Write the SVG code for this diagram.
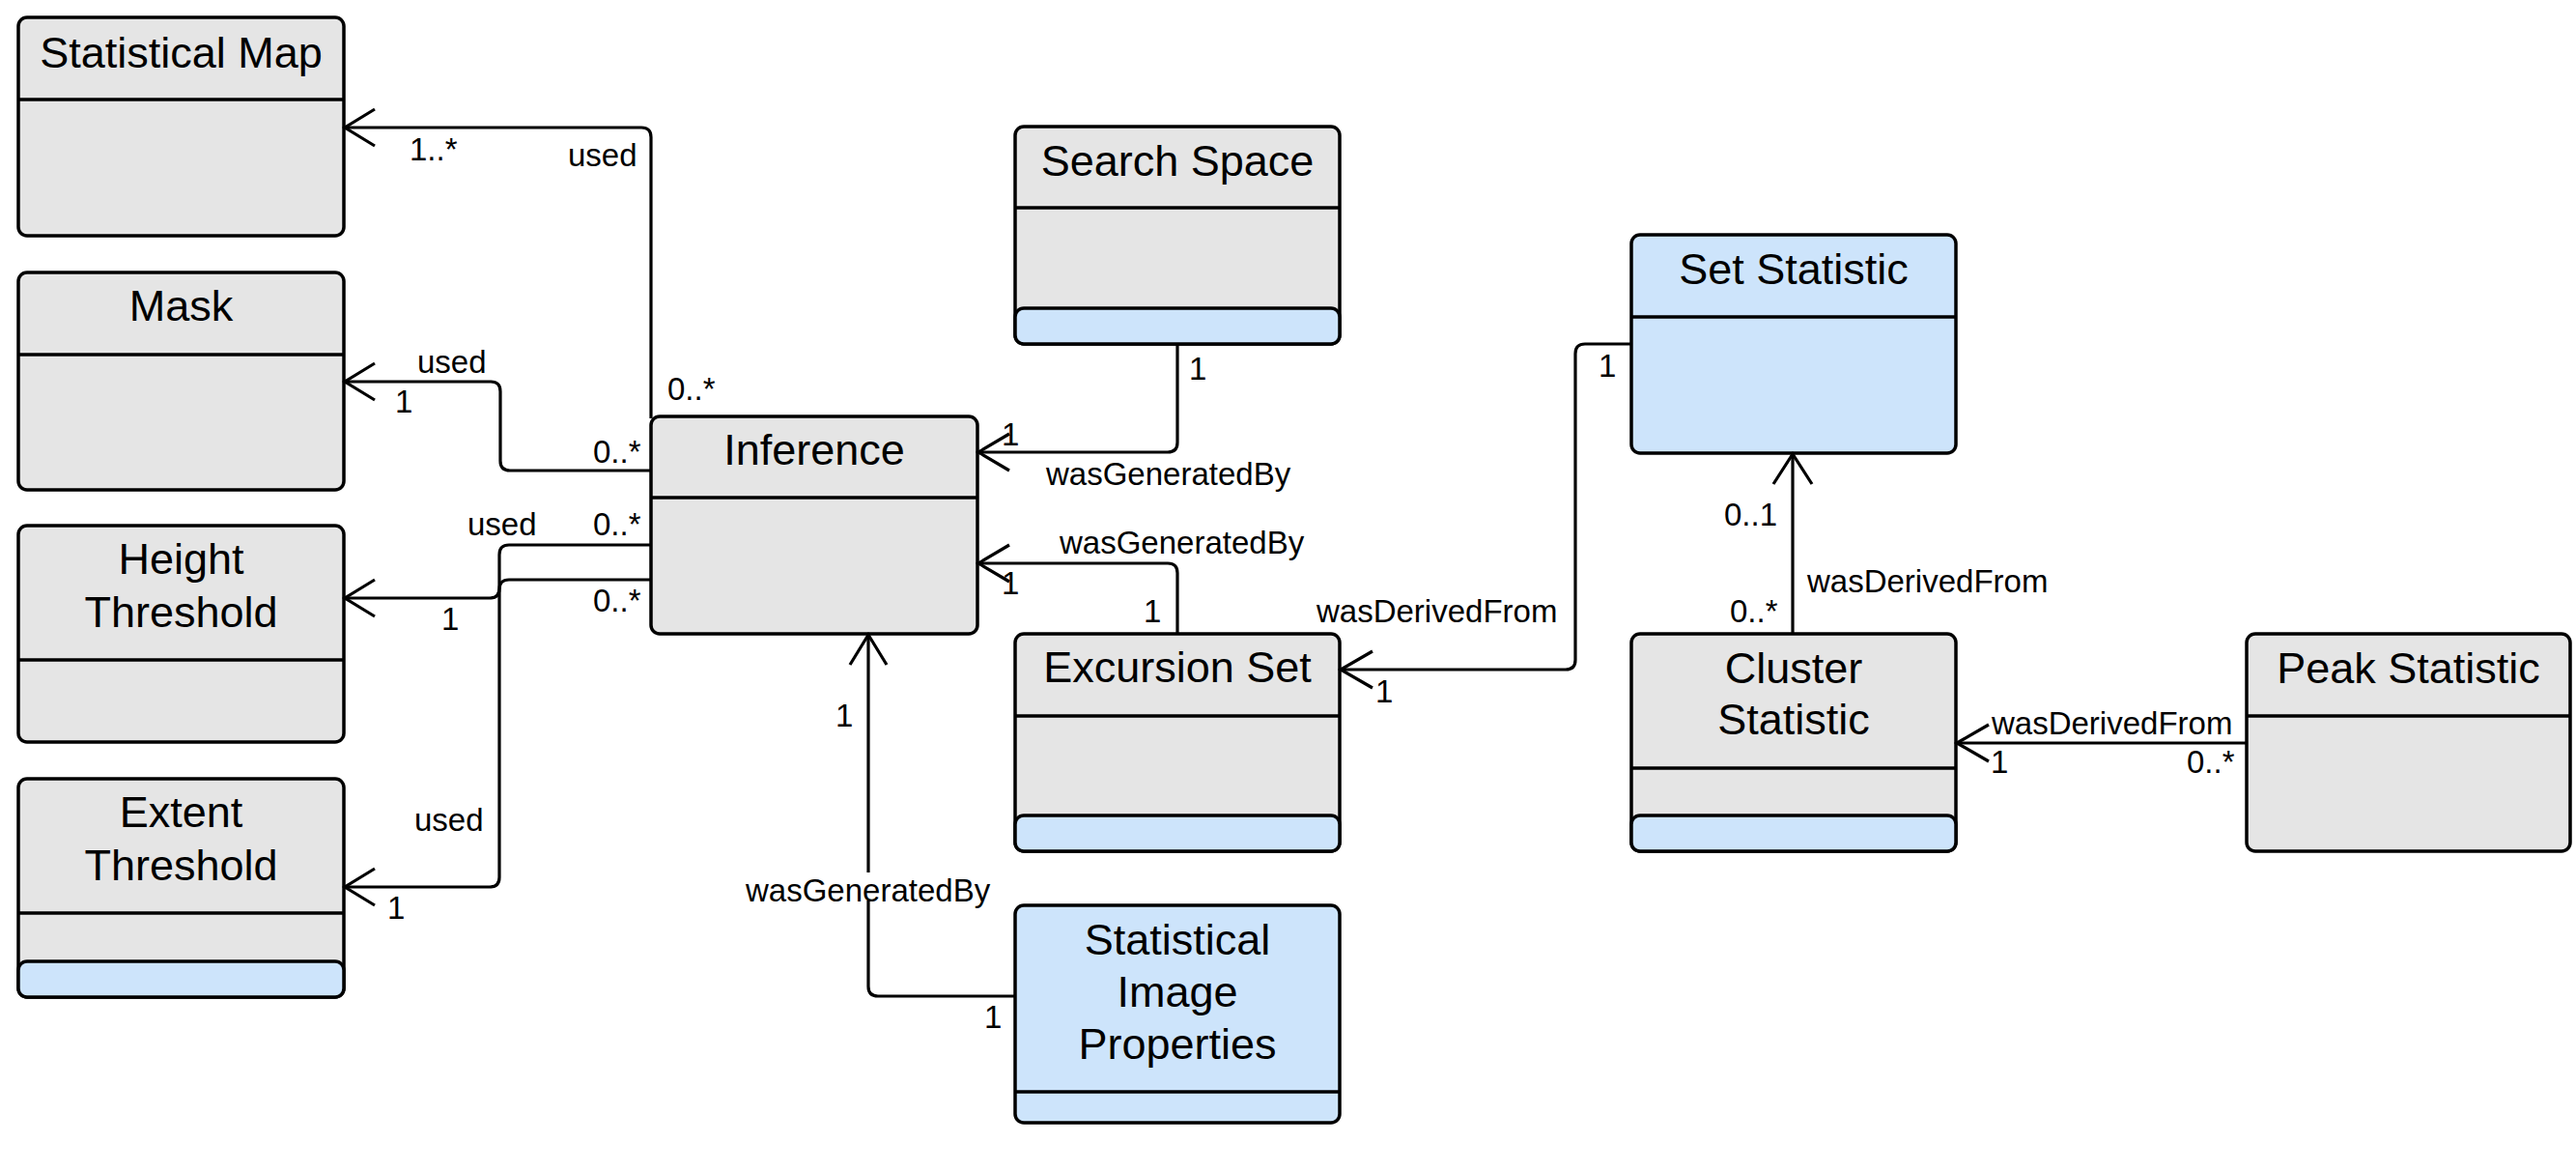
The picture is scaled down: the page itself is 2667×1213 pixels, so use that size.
<svg xmlns="http://www.w3.org/2000/svg" width="2667" height="1213" viewBox="0 0 2667 1213">
<style>
.box{fill:#e5e5e5;stroke:#000;stroke-width:3.5}
.bbox{fill:#cde4fb;stroke:#000;stroke-width:3.5}
.sec{fill:#cde4fb;stroke:#000;stroke-width:3.5}
.div{stroke:#000;stroke-width:3.5}
.t{font-family:"Liberation Sans",Arial,sans-serif;font-size:45px;fill:#000;text-anchor:middle}
.l{font-family:"Liberation Sans",Arial,sans-serif;font-size:33px;fill:#000}
.c{fill:none;stroke:#000;stroke-width:3.2;stroke-linejoin:round}
.a{fill:none;stroke:#000;stroke-width:3.2;stroke-linecap:butt}
</style>
<rect width="2667" height="1213" fill="#fff"/>

<g id="statistical-map">
<rect class="box" x="19" y="18" width="337" height="226" rx="9"/>
<line class="div" x1="19" y1="103" x2="356" y2="103"/>
<text class="t" x="187.5" y="70">Statistical Map</text>
</g>

<g id="mask">
<rect class="box" x="19" y="282" width="337" height="225" rx="9"/>
<line class="div" x1="19" y1="367" x2="356" y2="367"/>
<text class="t" x="187.5" y="332">Mask</text>
</g>

<g id="height-threshold">
<rect class="box" x="19" y="544" width="337" height="224" rx="9"/>
<line class="div" x1="19" y1="683" x2="356" y2="683"/>
<text class="t" x="187.5" y="594">Height</text>
<text class="t" x="187.5" y="649">Threshold</text>
</g>

<g id="extent-threshold">
<rect class="box" x="19" y="806" width="337" height="226" rx="9"/>
<line class="div" x1="19" y1="945" x2="356" y2="945"/>
<rect class="sec" x="19" y="995" width="337" height="37" rx="9"/>
<text class="t" x="187.5" y="856">Extent</text>
<text class="t" x="187.5" y="911">Threshold</text>
</g>

<g id="inference">
<rect class="box" x="674" y="431" width="338" height="225" rx="9"/>
<line class="div" x1="674" y1="515" x2="1012" y2="515"/>
<text class="t" x="843" y="481">Inference</text>
</g>

<g id="search-space">
<rect class="box" x="1051" y="131" width="336" height="225" rx="9"/>
<line class="div" x1="1051" y1="215" x2="1387" y2="215"/>
<rect class="sec" x="1051" y="319" width="336" height="37" rx="9"/>
<text class="t" x="1219" y="182">Search Space</text>
</g>

<g id="excursion-set">
<rect class="box" x="1051" y="656" width="336" height="225" rx="9"/>
<line class="div" x1="1051" y1="741" x2="1387" y2="741"/>
<rect class="sec" x="1051" y="844" width="336" height="37" rx="9"/>
<text class="t" x="1219" y="706">Excursion Set</text>
</g>

<g id="statistical-image-properties">
<rect class="bbox" x="1051" y="937" width="336" height="225" rx="9"/>
<line class="div" x1="1051" y1="1130" x2="1387" y2="1130"/>
<text class="t" x="1219" y="988">Statistical</text>
<text class="t" x="1219" y="1042">Image</text>
<text class="t" x="1219" y="1096">Properties</text>
</g>

<g id="set-statistic">
<rect class="bbox" x="1689" y="243" width="336" height="226" rx="9"/>
<line class="div" x1="1689" y1="328" x2="2025" y2="328"/>
<text class="t" x="1857" y="294">Set Statistic</text>
</g>

<g id="cluster-statistic">
<rect class="box" x="1689" y="656" width="336" height="225" rx="9"/>
<line class="div" x1="1689" y1="795" x2="2025" y2="795"/>
<rect class="sec" x="1689" y="844" width="336" height="37" rx="9"/>
<text class="t" x="1857" y="707">Cluster</text>
<text class="t" x="1857" y="760">Statistic</text>
</g>

<g id="peak-statistic">
<rect class="box" x="2326" y="656" width="335" height="225" rx="9"/>
<line class="div" x1="2326" y1="741" x2="2661" y2="741"/>
<text class="t" x="2493.5" y="707">Peak Statistic</text>
</g>

<g id="connectors">
<path class="c" d="M674,433 V142 Q674,132 664,132 H358"/>
<polyline class="a" points="388,113 357,132 388,151"/>
<path class="c" d="M674,487 H528 Q518,487 518,477 V405 Q518,395 508,395 H358"/>
<polyline class="a" points="388,376 357,395 388,414"/>
<path class="c" d="M674,564 H527 Q517,564 517,574 V609 Q517,619 507,619 H358"/>
<polyline class="a" points="388,600 357,619 388,638"/>
<path class="c" d="M674,600 H527 Q517,600 517,610 V908 Q517,918 507,918 H358"/>
<polyline class="a" points="388,899 357,918 388,937"/>
<path class="c" d="M1219,356 V458 Q1219,468 1209,468 H1014"/>
<polyline class="a" points="1045,449 1013,468 1045,487"/>
<path class="c" d="M1219,656 V593 Q1219,583 1209,583 H1014"/>
<polyline class="a" points="1045,564 1013,583 1045,602"/>
<path class="c" d="M1051,1031 H909 Q899,1031 899,1021 V932"/>
<path class="c" d="M899,903 V658"/>
<polyline class="a" points="880,688 899,657 918,688"/>
<path class="c" d="M1689,356 H1641 Q1631,356 1631,366 V683 Q1631,693 1621,693 H1389"/>
<polyline class="a" points="1421,674 1388,693 1421,712"/>
<path class="c" d="M1856,656 V471"/>
<polyline class="a" points="1836,501 1856,470 1876,501"/>
<path class="c" d="M2326,769 H2027"/>
<polyline class="a" points="2059,750 2026,769 2059,788"/>

<text class="l" x="588" y="172">used</text>
<text class="l" x="424" y="166">1..*</text>
<text class="l" x="691" y="414">0..*</text>
<text class="l" x="432" y="386">used</text>
<text class="l" x="409" y="427">1</text>
<text class="l" x="614" y="479">0..*</text>
<text class="l" x="484" y="554">used</text>
<text class="l" x="614" y="554">0..*</text>
<text class="l" x="614" y="633">0..*</text>
<text class="l" x="457" y="652">1</text>
<text class="l" x="429" y="860">used</text>
<text class="l" x="401" y="951">1</text>
<text class="l" x="1231" y="393">1</text>
<text class="l" x="1037" y="461">1</text>
<text class="l" x="1083" y="502">wasGeneratedBy</text>
<text class="l" x="1097" y="573">wasGeneratedBy</text>
<text class="l" x="1037" y="615">1</text>
<text class="l" x="1184" y="644">1</text>
<text class="l" x="865" y="752">1</text>
<text class="l" x="772" y="933">wasGeneratedBy</text>
<text class="l" x="1019" y="1064">1</text>
<text class="l" x="1655" y="390">1</text>
<text class="l" x="1363" y="644">wasDerivedFrom</text>
<text class="l" x="1424" y="727">1</text>
<text class="l" x="1785" y="544">0..1</text>
<text class="l" x="1871" y="613">wasDerivedFrom</text>
<text class="l" x="1791" y="644">0..*</text>
<text class="l" x="2062" y="760">wasDerivedFrom</text>
<text class="l" x="2061" y="800">1</text>
<text class="l" x="2264" y="800">0..*</text>
</g>
</svg>
